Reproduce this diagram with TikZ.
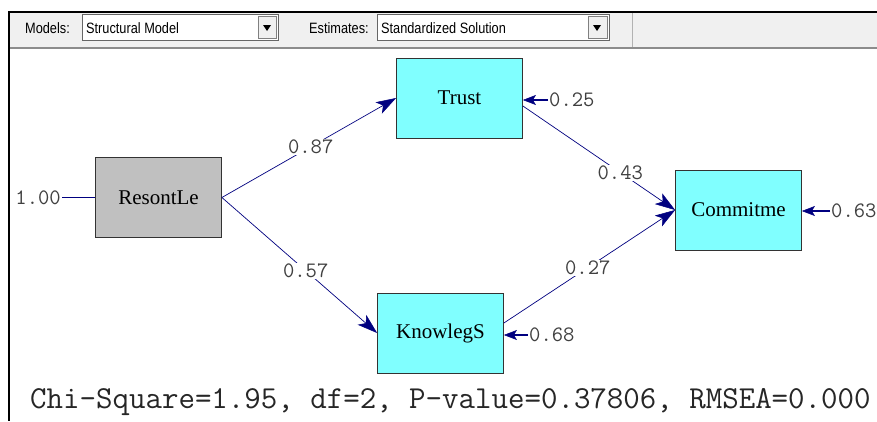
\documentclass[tikz,border=0pt]{standalone}
\usepackage{fontspec}
\setmainfont{Liberation Serif}
\newfontfamily\uifont{Liberation Sans}
\usetikzlibrary{arrows.meta,calc}
\definecolor{navy}{HTML}{000080}
\definecolor{boxcyan}{HTML}{80FFFF}
\definecolor{boxgray}{HTML}{C0C0C0}
\definecolor{toolbg}{HTML}{F0F0F0}
\begin{document}
\begin{tikzpicture}[x=1pt,y=-1pt,
  var/.style={draw=black!80,line width=0.8pt,minimum width=126pt,minimum height=80pt,inner sep=0pt,font=\fontsize{21}{21}\selectfont},
  endo/.style={var,fill=boxcyan},
  exo/.style={var,fill=boxgray},
  edgearrow/.style={draw=navy,line width=0.7pt,-{Stealth[length=20pt,width=13pt,inset=5pt,fill=navy,line width=0.5pt]}},
  resid/.style={draw=navy,line width=1.8pt,-{Stealth[length=13pt,width=10pt,inset=3pt,fill=navy,line width=0.5pt]}},
  coef/.style={fill=white,inner sep=1pt,text=black!75,font=\ttfamily\fontsize{22}{22}\selectfont},
  rlab/.style={inner sep=1pt,text=black!75,font=\ttfamily\fontsize{22}{22}\selectfont},
  ui/.style={font=\uifont\fontsize{15}{15}\selectfont,inner sep=0pt,xscale=0.85},
  combo/.style={draw=black!60,fill=white,line width=0.8pt}
]
\useasboundingbox (0,0) rectangle (877,421);
\fill[white] (0,0) rectangle (877,421);
% toolbar
\fill[toolbg] (9,12) rectangle (877,48);
\draw[black!45,line width=1.5pt] (9,48) -- (877,48);
\draw[black,line width=2pt] (9,12) -- (877,12);
\draw[black,line width=2pt] (9,11) -- (9,421);
\draw[black!30,line width=1pt] (632,13) -- (632,47);
\node[ui,anchor=west] (mlab) at (25,28) {Models:};
\draw[combo] (82,14) rectangle (278,40);
\node[ui,anchor=west] (mval) at (86,28) {Structural Model};
\draw[black!50,fill=toolbg,line width=0.8pt] (258,16) rectangle (276,38);
\fill[black] (263,25) -- (271,25) -- (267,31) -- cycle;
\node[ui,anchor=west] (elab) at (309,28) {Estimates:};
\draw[combo] (377,14) rectangle (609,40);
\node[ui,anchor=west] (eval) at (381,28) {Standardized Solution};
\draw[black!50,fill=toolbg,line width=0.8pt] (588,16) rectangle (607,38);
\fill[black] (593,25) -- (601,25) -- (597,31) -- cycle;
% nodes
\node[exo] (R) at (158.5,197.5) {ResontLe};
\node[endo] (T) at (459.5,98) {Trust};
\node[endo] (C) at (738.5,210) {Commitme};
\node[endo] (K) at (440.5,333) {KnowlegS};
% coordinates
\coordinate (Tout) at ($(T.east)+(0,8)$);
\coordinate (Kout) at ($(K.east)+(0,-10)$);
% paths
\draw[edgearrow] (R.east) -- node[coef,pos=0.51] {0.87} (T.west);
\draw[edgearrow] (R.east) -- node[coef,pos=0.54] {0.57} (K.west);
\draw[edgearrow] (Tout) -- node[coef,pos=0.64] {0.43} (C.west);
\draw[edgearrow] (Kout) -- node[coef,pos=0.49] {0.27} (C.west);
% residuals / variances
\node[rlab,anchor=east] (rR) at (62,197.5) {1.00};
\draw[navy,line width=0.8pt] (rR.east) -- (R.west);
\node[rlab,anchor=west] (rT) at (548,100) {0.25};
\draw[resid] (rT.west) -- (T.east |- rT.west);
\node[rlab,anchor=west] (rC) at (830,211) {0.63};
\draw[resid] (rC.west) -- (C.east |- rC.west);
\node[rlab,anchor=west] (rK) at (528,335) {0.68};
\draw[resid] (rK.west) -- (K.east |- rK.west);
% fit line
\node[anchor=base west,inner sep=0pt,text=black!85,font=\ttfamily\fontsize{32}{32}\selectfont] (fit) at (30,408) {Chi-Square=1.95, df=2, P-value=0.37806, RMSEA=0.000};
\end{tikzpicture}
\end{document}
